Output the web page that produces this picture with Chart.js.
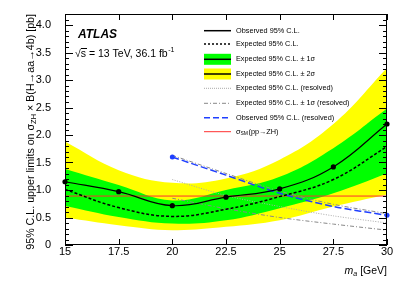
<!DOCTYPE html>
<html>
<head>
<meta charset="utf-8">
<script src="https://cdn.jsdelivr.net/npm/chart.js@4.4.0/dist/chart.umd.min.js"></script>
<style>
  html, body { margin: 0; padding: 0; background: #fff; }
  #grafico { display: block; }
</style>
</head>
<body>
<canvas id="grafico" width="407" height="292"></canvas>
<script>
// === Dados ===
const massas = [15, 17.5, 20, 22.5, 25, 27.5, 30];
const observado = [1.15, 0.97, 0.715, 0.87, 1.02, 1.42, 2.2];
const esperado = [1.01, 0.68, 0.52, 0.65, 0.88, 1.19, 1.79];
const mais1s = [1.38, 1.09, 0.81, 1.0, 1.24, 1.76, 2.48];
const menos1s = [0.71, 0.51, 0.39, 0.45, 0.67, 0.94, 1.30];
const mais2s = [1.88, 1.36, 1.13, 1.21, 1.55, 2.2, 3.22];
const menos2s = [0.50, 0.36, 0.27, 0.33, 0.45, 0.70, 0.92];

const massasRes = [20, 22.5, 25, 27.5, 30];
const observadoRes = [1.6, 1.27, 0.94, 0.70, 0.54];
const esperadoRes = [1.19, 0.90, 0.70, 0.53, 0.40];
const esperadoResMais = [1.63, 1.30, 0.98, 0.74, 0.57];
const esperadoResMenos = [0.85, 0.66, 0.50, 0.38, 0.27];

const massasSM = [15, 30];
const sigmaSM = [0.89, 0.89];

const xTicks = [15, 17.5, 20, 22.5, 25, 27.5, 30];
const yTicks = [0, 0.5, 1, 1.5, 2, 2.5, 3, 3.5, 4];

const FONTE = "'Liberation Sans', Arial, Helvetica, sans-serif";

function pontos(xs, ys) {
  return xs.map((x, i) => ({ x, y: ys[i] }));
}

// === Moldura, ticks, títulos e legenda (estilo ROOT) ===
const estiloRoot = {
  id: "estiloRoot",
  afterDraw(chart) {
    const c = chart.ctx;
    const a = chart.chartArea;
    const sx = chart.scales.x, sy = chart.scales.y;
    c.save();
    c.strokeStyle = "#000";
    c.lineWidth = 1;
    // moldura
    c.strokeRect(Math.round(a.left) + 0.5, Math.round(a.top) + 0.5,
      Math.round(a.right - a.left) - 1, Math.round(a.bottom - a.top) - 1);
    c.beginPath();
    // ticks y (major 0.5, minor 0.1)
    for (let i = 0; i <= 42; i++) {
      const v = i / 10;
      const py = Math.round(sy.getPixelForValue(v)) + 0.5;
      const len = i % 5 === 0 ? 8 : 4;
      c.moveTo(a.left, py); c.lineTo(a.left + len, py);
      c.moveTo(a.right, py); c.lineTo(a.right - len, py);
    }
    // ticks x
    xTicks.forEach(v => {
      const px = Math.round(sx.getPixelForValue(v)) + 0.5;
      c.moveTo(px, a.bottom); c.lineTo(px, a.bottom - 6);
      c.moveTo(px, a.top); c.lineTo(px, a.top + 6);
    });
    c.stroke();

    c.fillStyle = "#000";
    // titulo eixo y (rotacionado, alinhado ao topo)
    let fy = 9;
    const textosY = [["95% C.L. upper limits on σ", 1, 0], ["ZH", 0.7, 0.25], [" × B(H→aa→4b) [pb]", 1, 0]];
    const medir = f => textosY.reduce((s, p) => { c.font = (f * p[1]) + "px " + FONTE; return s + c.measureText(p[0]).width; }, 0);
    fy = fy * 236 / medir(fy);
    const total = medir(fy);
    c.save();
    c.translate(33.5, a.top);
    c.rotate(-Math.PI / 2);
    c.textBaseline = "alphabetic";
    c.textAlign = "left";
    let px = -total;
    textosY.forEach(p => {
      c.font = (fy * p[1]) + "px " + FONTE;
      c.fillText(p[0], px, p[2] * fy);
      px += c.measureText(p[0]).width;
    });
    c.restore();

    // titulo eixo x
    c.textBaseline = "alphabetic";
    c.textAlign = "left";
    const xt = [["m", "italic 10.5px " + FONTE, 0], ["a", "italic 7px " + FONTE, 2], [" [GeV]", "10.5px " + FONTE, 0]];
    let tw = 0;
    xt.forEach(p => { c.font = p[1]; tw += c.measureText(p[0]).width; });
    let xx = a.right - tw;
    xt.forEach(p => { c.font = p[1]; c.fillText(p[0], xx, 274 + p[2]); xx += c.measureText(p[0]).width; });

    // ATLAS
    c.font = "italic bold 12px " + FONTE;
    c.fillText("ATLAS", 78, 37.5);
    c.font = "10.5px " + FONTE;
    const l1 = "√s = 13 TeV, 36.1 fb";
    c.fillText(l1, 75, 57);
    const w1 = c.measureText(l1).width;
    c.font = "7px " + FONTE;
    c.fillText("-1", 75 + w1 + 0.5, 52);
    c.beginPath();
    c.moveTo(81, 48.5); c.lineTo(87, 48.5); c.stroke();

    // legenda
    const lx0 = 204, lx1 = 231, tx = 236;
    const linhas = [30.7, 44, 59.3, 74, 88.3, 103.3, 117.7, 131.7];
    function amostra(y, cor, larg, traco) {
      c.save();
      c.strokeStyle = cor; c.lineWidth = larg; c.setLineDash(traco);
      c.beginPath(); c.moveTo(lx0, y); c.lineTo(lx1, y); c.stroke();
      c.restore();
    }
    c.fillStyle = "#ffff00"; c.fillRect(lx0, linhas[3] - 5.5, lx1 - lx0, 11);
    c.fillStyle = "#00ff00"; c.fillRect(lx0, linhas[2] - 5.5, lx1 - lx0, 11);
    amostra(linhas[0], "#000", 1.5, []);
    amostra(linhas[1], "#000", 1.5, [2, 2]);
    amostra(linhas[2], "#000", 1.5, []);
    amostra(linhas[3], "#000", 1.5, []);
    amostra(linhas[4], "#aaaaaa", 1, [1, 1]);
    amostra(linhas[5], "#888888", 1, [4, 2, 1, 2]);
    amostra(linhas[6], "#1f3fff", 1.5, [6, 3]);
    amostra(linhas[7], "#ff3030", 1, []);
    c.fillStyle = "#000";
    c.textBaseline = "middle";
    c.font = "7.3px " + FONTE;
    const textos = ["Observed 95% C.L.", "Expected 95% C.L.", "Expected 95% C.L. ± 1σ",
      "Expected 95% C.L. ± 2σ", "Expected 95% C.L. (resolved)", "Expected 95% C.L. ± 1σ (resolved)",
      "Observed 95% C.L. (resolved)"];
    textos.forEach((t, i) => c.fillText(t, tx, linhas[i]));
    c.fillText("σ", tx, linhas[7]);
    const ws = c.measureText("σ").width;
    c.font = "5px " + FONTE;
    c.fillText("SM", tx + ws, linhas[7] + 2);
    const wsm = c.measureText("SM").width;
    c.font = "7.3px " + FONTE;
    c.fillText("(pp→ZH)", tx + ws + wsm + 0.5, linhas[7]);
    c.restore();
  }
};

const ctx = document.getElementById("grafico").getContext("2d");
const grafico = new Chart(ctx, {
  type: "line",
  data: {
    datasets: [
      { data: pontos(massas, mais2s), fill: 1, backgroundColor: "#ffff00", borderColor: "transparent", borderWidth: 0, pointRadius: 0, tension: 0.4, order: 20 },
      { data: pontos(massas, menos2s), fill: false, borderColor: "transparent", borderWidth: 0, pointRadius: 0, tension: 0.4, order: 20 },
      { data: pontos(massas, mais1s), fill: 3, backgroundColor: "#00ff00", borderColor: "transparent", borderWidth: 0, pointRadius: 0, tension: 0.4, order: 19 },
      { data: pontos(massas, menos1s), fill: false, borderColor: "transparent", borderWidth: 0, pointRadius: 0, tension: 0.4, order: 19 },
      { data: pontos(massasSM, sigmaSM), borderColor: "#ff3030", borderWidth: 1, pointRadius: 0, order: 6 },
      { data: pontos(massasRes, esperadoResMenos), borderColor: "#888888", borderWidth: 1, borderDash: [4, 2, 1, 2], pointRadius: 0, tension: 0.3, order: 5 },
      { data: pontos(massasRes, esperadoResMais), borderColor: "#888888", borderWidth: 1, borderDash: [4, 2, 1, 2], pointRadius: 0, tension: 0.3, order: 5 },
      { data: pontos(massasRes, esperadoRes), borderColor: "#aaaaaa", borderWidth: 1, borderDash: [1, 1.5], pointRadius: 0, tension: 0.3, order: 5 },
      { data: pontos(massasRes, observadoRes), borderColor: "#1f3fff", backgroundColor: "#1f3fff", borderWidth: 1.5, borderDash: [7, 3],
        pointRadius: [2.5, 0, 0, 0, 2.5], pointBorderWidth: 0, tension: 0.3, order: 3, clip: false },
      { data: pontos(massas, esperado), borderColor: "#000", borderWidth: 1.5, borderDash: [3, 2], pointRadius: 0, tension: 0.4, order: 2 },
      { data: pontos(massas, observado), borderColor: "#000", backgroundColor: "#000", borderWidth: 1.2, pointRadius: 2.6, pointBorderWidth: 0, tension: 0.4, order: 1, clip: false }
    ]
  },
  options: {
    responsive: false,
    animation: false,
    devicePixelRatio: 1,
    layout: { padding: { top: 14, right: 20, left: 0, bottom: 0 } },
    plugins: { legend: { display: false }, tooltip: { enabled: false } },
    scales: {
      x: {
        type: "linear", min: 15, max: 30,
        afterFit: s => { s.height = 47; },
        afterBuildTicks: s => { s.ticks = xTicks.map(v => ({ value: v })); },
        grid: { display: false }, border: { display: false },
        ticks: { padding: -8, color: "#000", font: { family: FONTE, size: 11 }, maxRotation: 0, autoSkip: false }
      },
      y: {
        type: "linear", min: 0, max: 4.2,
        afterFit: s => { s.width = 65; },
        afterBuildTicks: s => { s.ticks = yTicks.map(v => ({ value: v })); },
        grid: { display: false }, border: { display: false },
        ticks: { padding: 6, color: "#000", font: { family: FONTE, size: 11 }, autoSkip: false }
      }
    }
  },
  plugins: [estiloRoot]
});
</script>
</body>
</html>
